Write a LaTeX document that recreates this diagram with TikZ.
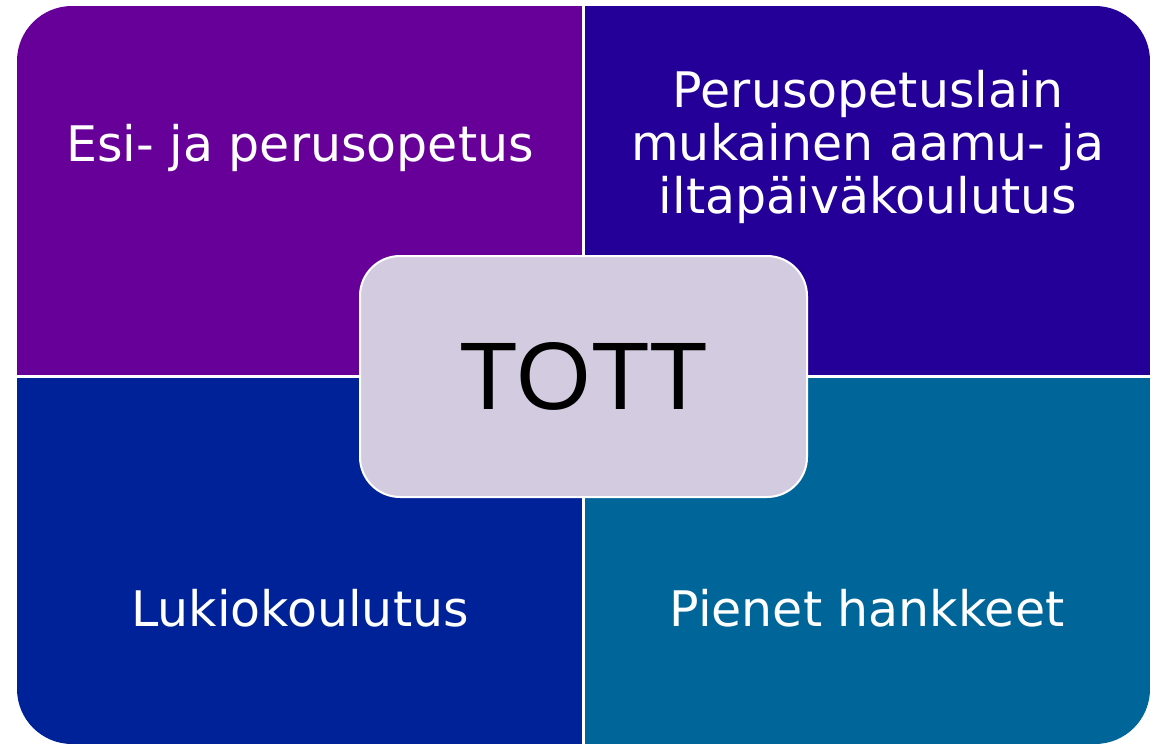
\documentclass[tikz,border=0pt]{standalone}
\usepackage{fontspec}
\setmainfont{DejaVu Sans}
\newfontfamily\tottfont{Liberation Sans}
\definecolor{qTL}{HTML}{660099}
\definecolor{qTR}{HTML}{240099}
\definecolor{qBL}{HTML}{002299}
\definecolor{qBR}{HTML}{006699}
\definecolor{qC}{HTML}{D3CCE0}
\begin{document}
\begin{tikzpicture}[x=1pt,y=-1pt,
  qtext/.style={text=white,font=\fontsize{49}{53}\selectfont,align=center,inner sep=0pt},
  centerbox/.style={draw=white,line width=2pt,fill=qC,rounded corners=40pt}]
\useasboundingbox (0,0) rectangle (1157,744);
\begin{scope}
  \clip[rounded corners=55pt] (17,6) rectangle (1150,744);
  \fill[qTL] (17,6) rectangle (583.5,376.5);
  \fill[qTR] (583.5,6) rectangle (1150,376.5);
  \fill[qBL] (17,376.5) rectangle (583.5,744);
  \fill[qBR] (583.5,376.5) rectangle (1150,744);
  \draw[white,line width=3pt] (583.5,0) -- (583.5,744);
  \draw[white,line width=3pt] (0,376.5) -- (1157,376.5);
\end{scope}
\node[qtext,anchor=base] (tl) at (300,161) {Esi- ja perusopetus};
\node[qtext,anchor=base] (tr) at (868,213) {Perusopetuslain\\mukainen aamu- ja\\iltapäiväkoulutus};
\node[qtext,anchor=base] (bl) at (300,626) {Lukiokoulutus};
\node[qtext,anchor=base] (br) at (867,626) {Pienet hankkeet};
\filldraw[centerbox] (360,256) rectangle (807,497);
\node[anchor=base,inner sep=0pt,font=\tottfont\fontsize{96}{96}\selectfont] (tott) at (584,409) {TOTT};
\end{tikzpicture}
\end{document}
